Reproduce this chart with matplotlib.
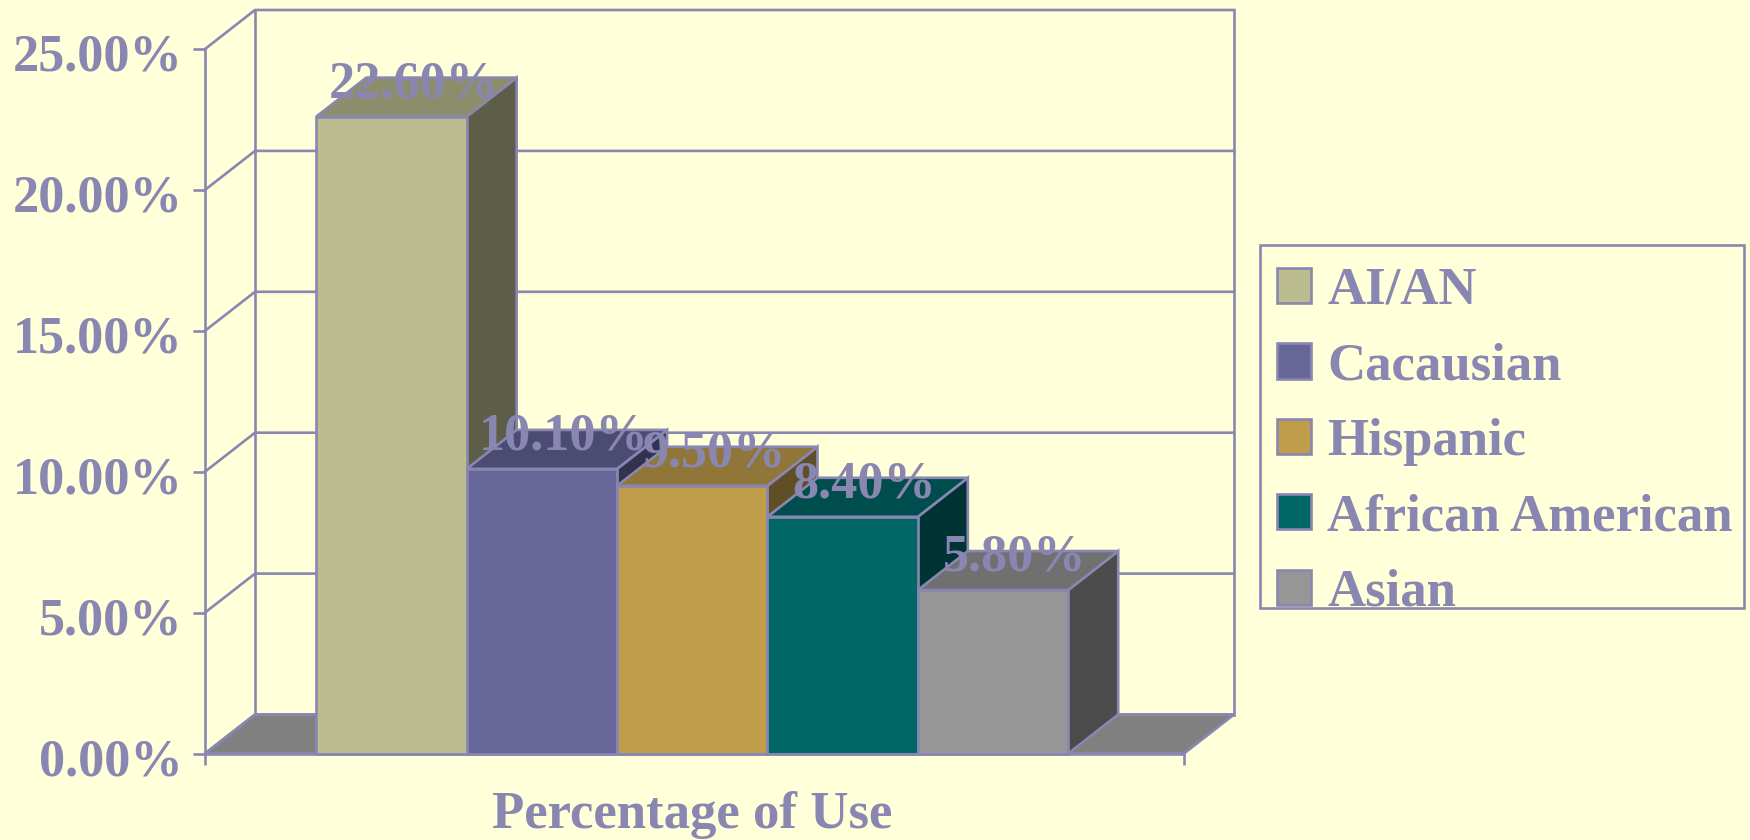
import matplotlib
matplotlib.use("Agg")
import matplotlib.pyplot as plt
from matplotlib.patches import Patch, Rectangle
from matplotlib.transforms import ScaledTranslation

# Chart data
groups = ["AI/AN", "Cacausian", "Hispanic", "African American", "Asian"]
usage = [22.6, 10.1, 9.5, 8.4, 5.8]
value_labels = ["22.60%", "10.10%", "9.50%", "8.40%", "5.80%"]
y_ticks = [0, 5, 10, 15, 20, 25]
y_tick_labels = ["0.00%", "5.00%", "10.00%", "15.00%", "20.00%", "25.00%"]
x_title = "Percentage of Use"

# Colours
BACKGROUND = "#FFFFD9"
INK = "#8987B2"
FLOOR = "#808080"
front_colors = ["#BBBD8F", "#666699", "#C09D4B", "#006666", "#969696"]
top_colors = ["#8C8E6B", "#4C4C73", "#907638", "#004D4D", "#707070"]
side_colors = ["#5E5E48", "#33334D", "#604F26", "#003333", "#4B4B4B"]

W, H = 1750, 840
FONT = "Liberation Serif"
FONT_SIZE = 37.6
LINE = 1.9

fig = plt.figure(figsize=(W / 100, H / 100), dpi=100, facecolor=BACKGROUND)
ax = fig.add_axes([205 / W, 1 - 753.5 / H, 979 / W, 704.5 / H], facecolor="none")

x_min, x_max = -0.74, len(usage) + 0.77
ax.set_xlim(x_min, x_max)
ax.set_ylim(0, 25)

# Oblique depth of the pseudo-3D box, in data units
DX = 50 / (979 / (x_max - x_min))
DY = 39 / (704.5 / 25)

# Floor
ax.fill([x_min, x_max, x_max + DX, x_min + DX], [0, 0, DY, DY],
        facecolor=FLOOR, edgecolor=INK, lw=LINE, zorder=1, clip_on=False)

# Back wall, side wall and gridlines
for t in y_ticks:
    ax.plot([x_min, x_min + DX, x_max + DX], [t, t + DY, t + DY],
            color=INK, lw=LINE, zorder=1.5, clip_on=False, solid_joinstyle="miter")
ax.plot([x_min + DX] * 2, [DY, 25 + DY], color=INK, lw=LINE, zorder=1.5, clip_on=False)
ax.plot([x_max + DX] * 2, [DY, 25 + DY], color=INK, lw=LINE, zorder=1.5, clip_on=False)

# Bars: front faces plus oblique top and side faces
for i, v in enumerate(usage):
    z = 2 + i
    ax.fill([i + 1, i + 1 + DX, i + 1 + DX, i + 1], [0, DY, v + DY, v],
            facecolor=side_colors[i], edgecolor=INK, lw=LINE, zorder=z, clip_on=False)
    ax.fill([i, i + DX, i + 1 + DX, i + 1], [v, v + DY, v + DY, v],
            facecolor=top_colors[i], edgecolor=INK, lw=LINE, zorder=z, clip_on=False)
    ax.bar(i, v, width=1, align="edge", color=front_colors[i], edgecolor=INK,
           lw=LINE, zorder=z + 0.5, clip_on=False)

# Value labels sit on the middle of each top face
for i, (v, s) in enumerate(zip(usage, value_labels)):
    ax.text(i + 0.5 + DX / 2 - 0.02, v + DY / 2, s, ha="center", va="baseline",
            family=FONT, weight="bold", size=FONT_SIZE, color=INK, zorder=20,
            clip_on=False)

# Axes
for name, spine in ax.spines.items():
    spine.set_visible(name in ("left", "bottom"))
    spine.set_color(INK)
    spine.set_linewidth(LINE)
    spine.set_zorder(15)
ax.set_yticks(y_ticks, y_tick_labels, family=FONT, weight="bold", size=FONT_SIZE, color=INK)
ax.set_xticks([x_min, x_max], ["", ""])
ax.tick_params(axis="y", length=8.6, width=LINE, color=INK, pad=7.6)
ax.tick_params(axis="x", length=8, width=LINE, color=INK)
# Tick labels hang slightly below their tick marks
label_shift = ScaledTranslation(0, -3 / 100, fig.dpi_scale_trans)
for label in ax.get_yticklabels():
    label.set_transform(label.get_transform() + label_shift)
fig.text(692.5 / W, 1 - 828 / H, x_title, ha="center", va="baseline",
         family=FONT, weight="bold", size=FONT_SIZE + 0.4, color=INK)

# Legend: box and entries
fig.add_artist(Rectangle((1260 / W, 1 - 608 / H), 484 / W, 363 / H, transform=fig.transFigure,
                         facecolor=BACKGROUND, edgecolor=INK, lw=LINE))
handles = [Patch(facecolor=c, edgecolor=INK, lw=LINE) for c in front_colors]
leg = fig.legend(handles, groups, loc="upper left", bbox_to_anchor=(1277 / W, 1 - 267 / H),
                 bbox_transform=fig.transFigure, borderaxespad=0, borderpad=0,
                 handlelength=0.65, handleheight=0.65, handletextpad=0.3, labelspacing=0.52,
                 frameon=False,
                 prop={"family": FONT, "weight": "bold", "size": FONT_SIZE + 0.4}, labelcolor=INK)

fig.savefig("out.png", dpi=100, facecolor=BACKGROUND)
